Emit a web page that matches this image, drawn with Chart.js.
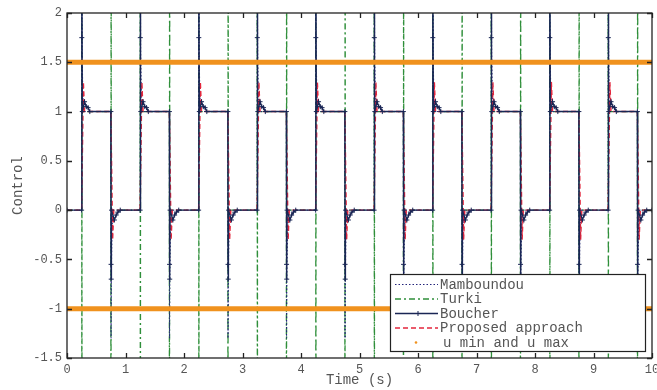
<!DOCTYPE html>
<html><head><meta charset="utf-8">
<script src="https://cdn.jsdelivr.net/npm/chart.js@4/dist/chart.umd.min.js"></script>
<style>html,body{margin:0;padding:0;background:#fff;overflow:hidden}</style>
</head><body>
<canvas id="c" width="657" height="390"></canvas>
<script>
// ---- data ----
const xTicks = [0,1,2,3,4,5,6,7,8,9,10];
const xTickLabels = ['0','1','2','3','4','5','6','7','8','9','10'];
const yTicks = [-1.5,-1,-0.5,0,0.5,1,1.5,2];
const yTickLabels = ['-1.5','-1','-0.5','0','0.5','1','1.5','2'];
const riseTimes = [0.25,1.25,2.25,3.25,4.25,5.25,6.25,7.25,8.25,9.25];
const fallTimes = [0.75,1.75,2.75,3.75,4.75,5.75,6.75,7.75,8.75,9.75];
const seriesNames = ['Mamboundou','Turki','Boucher','Proposed approach','u min and u max'];
// response around each edge: [time after edge (s), control]
const mambRise = [[0,0],[0.003,2.5],[0.01,1.6],[0.02,1.2],[0.035,1.0]];
const mambFall = [[0,1],[0.003,-1.3],[0.01,-0.6],[0.02,-0.2],[0.035,0]];
const turkiRise = [[0,0],[0.002,40],[0.004,-40],[0.006,1]];
const turkiFall = [[0,1],[0.002,-40],[0.004,40],[0.006,0]];
const boucherRise = [[0,0],[0.003,1.75],[0.006,2.2],[0.012,1.0],[0.05,1.1],[0.08,1.05],[0.11,1.04],[0.14,1.0]];
const boucherFall = [[0,1],[0.003,-0.55],[0.006,-0.7],[0.012,0],[0.06,-0.1],[0.09,-0.05],[0.12,-0.02],[0.16,0]];
const propRise = [[0,0],[0.03,1.3],[0.05,1.0]];
const propFall = [[0,1],[0.03,-0.3],[0.05,0]];
const tStart = 0, tEnd = 10;
const uMax = 1.5, uMin = -1;

function build(rise, fall){
  const pts=[{x:tStart,y:rise[0][1]}];
  for(let i=0;i<riseTimes.length;i++){
    rise.forEach(([dt,v])=>pts.push({x:riseTimes[i]+dt,y:v}));
    fall.forEach(([dt,v])=>pts.push({x:fallTimes[i]+dt,y:v}));
  }
  pts.push({x:tEnd,y:fall[fall.length-1][1]});
  return pts;
}

const C = {
  mamb:'#24247a', turki:'#2f8f3a', boucher:'#1a2655', prop:'#e3263c', u:'#f0921e', text:'#555', axis:'#222'
};
const FONT = "'Liberation Mono', 'DejaVu Sans Mono', monospace";

const datasets = [
  {label:seriesNames[4], data:[{x:tStart,y:uMax},{x:tEnd,y:uMax}], borderColor:C.u, borderWidth:5, pointRadius:0, order:0},
  {label:seriesNames[4]+' ', data:[{x:tStart,y:uMin},{x:tEnd,y:uMin}], borderColor:C.u, borderWidth:5, pointRadius:0, order:0},
  {label:seriesNames[2], data:build(boucherRise,boucherFall), borderColor:C.boucher, borderWidth:1.4,
    pointStyle:'cross', pointRadius:2.5, pointBorderWidth:1, pointBorderColor:C.boucher, order:1},
  {label:seriesNames[3], data:build(propRise,propFall), borderColor:C.prop, borderWidth:1.4, borderDash:[5,3], pointRadius:0, order:2},
  {label:seriesNames[0], data:build(mambRise,mambFall), borderColor:C.mamb, borderWidth:1, borderDash:[1.5,2], pointRadius:0, order:3},
  {label:seriesNames[1], data:build(turkiRise,turkiFall), borderColor:C.turki, borderWidth:1.3, borderDash:[6,3,2,3], pointRadius:0, order:4},
];

const framePlugin = {
  id:'frame',
  afterDatasetsDraw(chart){
    const {ctx, chartArea:a, scales:{x,y}} = chart;
    ctx.save();
    ctx.strokeStyle = C.axis; ctx.lineWidth = 1.3;
    ctx.strokeRect(a.left, a.top, a.right-a.left, a.bottom-a.top);
    ctx.beginPath();
    const L = 5;
    xTicks.forEach(v=>{
      const px = Math.round(x.getPixelForValue(v))+0.5;
      ctx.moveTo(px,a.bottom); ctx.lineTo(px,a.bottom-L);
      ctx.moveTo(px,a.top); ctx.lineTo(px,a.top+L);
    });
    yTicks.forEach(v=>{
      const py = Math.round(y.getPixelForValue(v))+0.5;
      ctx.moveTo(a.left,py); ctx.lineTo(a.left+L,py);
      ctx.moveTo(a.right,py); ctx.lineTo(a.right-L,py);
    });
    ctx.stroke();
    ctx.restore();
  }
};

const legendPlugin = {
  id:'lg',
  afterDraw(chart){
    const ctx = chart.ctx;
    ctx.save();
    const Lx=390, T=274, R=645, B=351;
    ctx.fillStyle='#fff'; ctx.fillRect(Lx,T,R-Lx,B-T);
    ctx.strokeStyle=C.axis; ctx.lineWidth=1.2; ctx.strokeRect(Lx+0.5,T+0.5,R-Lx,B-T);
    const rows=[284.5,299,313.5,328,342.5];
    const styles=[
      {c:C.mamb,d:[1.5,2],w:1.2},
      {c:C.turki,d:[6,3,2,3],w:1.3},
      {c:C.boucher,d:[],w:1.4,m:true},
      {c:C.prop,d:[5,3],w:1.3},
      {dot:true}
    ];
    const x0=395, x1=438;
    rows.forEach((ry,i)=>{
      const s=styles[i];
      if(s.dot){
        ctx.fillStyle=C.u; ctx.beginPath(); ctx.arc(416,ry,1.3,0,Math.PI*2); ctx.fill();
      } else {
        ctx.strokeStyle=s.c; ctx.lineWidth=s.w; ctx.setLineDash(s.d);
        ctx.beginPath(); ctx.moveTo(x0,ry); ctx.lineTo(x1,ry); ctx.stroke();
        ctx.setLineDash([]);
        if(s.m){ ctx.lineWidth=1; ctx.beginPath(); ctx.moveTo(418,ry-2.5); ctx.lineTo(418,ry+2.5); ctx.moveTo(415.5,ry); ctx.lineTo(420.5,ry); ctx.stroke(); }
      }
      ctx.fillStyle=C.text; ctx.font="14px "+FONT; ctx.textBaseline='middle'; ctx.textAlign='left';
      ctx.fillText(seriesNames[i], i===4 ? 443 : 440, ry+0.5);
    });
    ctx.restore();
  }
};

new Chart(document.getElementById('c'), {
  type:'line',
  data:{datasets},
  options:{
    responsive:false, animation:false, devicePixelRatio:1,
    layout:{padding:{top:13,right:5,left:0,bottom:0}},
    plugins:{legend:{display:false}, tooltip:{enabled:false}},
    elements:{line:{tension:0}},
    scales:{
      x:{type:'linear', min:0, max:10,
        afterBuildTicks:s=>{s.ticks = xTicks.map(v=>({value:v}));},
        afterFit:s=>{s.height=32; s.paddingLeft=0; s.paddingRight=0;},
        grid:{display:false, drawTicks:false}, border:{display:false},
        ticks:{padding:5, maxRotation:0, autoSkip:false, color:C.text, font:{family:FONT,size:12},
          callback:(v)=>xTickLabels[xTicks.indexOf(v)]},
        title:{display:true, text:'Time (s)', color:C.text, font:{family:FONT,size:14}, padding:{top:0,bottom:1}}
      },
      y:{type:'linear', min:-1.5, max:2,
        afterBuildTicks:s=>{s.ticks = yTicks.map(v=>({value:v}));},
        afterFit:s=>{s.width=67; s.paddingTop=0; s.paddingBottom=0;},
        grid:{display:false, drawTicks:false}, border:{display:false},
        ticks:{padding:5, autoSkip:false, color:C.text, font:{family:FONT,size:12},
          callback:(v)=>yTickLabels[yTicks.indexOf(v)]},
        title:{display:true, text:'Control', color:C.text, font:{family:FONT,size:14}, padding:{top:10,bottom:0}}
      }
    }
  },
  plugins:[framePlugin, legendPlugin]
});
</script>
</body></html>
